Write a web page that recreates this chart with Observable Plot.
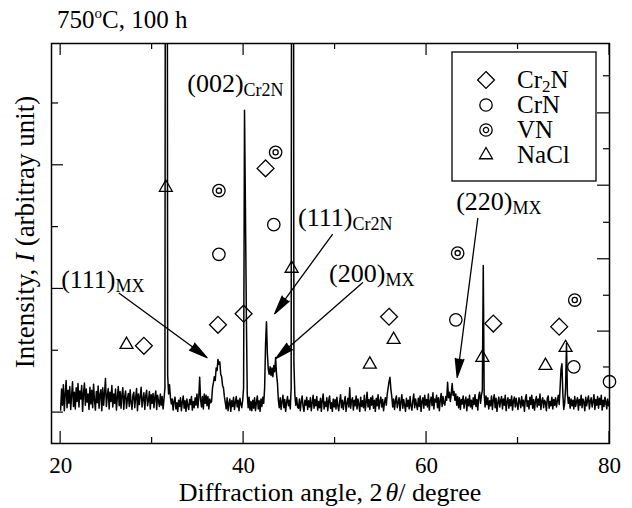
<!DOCTYPE html>
<html>
<head>
<meta charset="utf-8">
<script src="https://cdn.jsdelivr.net/npm/d3@7"></script>
<script src="https://cdn.jsdelivr.net/npm/@observablehq/plot@0.6"></script>
<style>
  html, body { margin: 0; padding: 0; background: #fff; }
  #chart svg { display: block; }
</style>
</head>
<body>
<div id="chart"></div>
<script>
// XRD scan after 750 °C, 100 h: 2θ from 20.0° to 80.0° in 0.1° steps,
// one array of intensities (arbitrary units) per 10° span.
const scanStart = 20.0;
const scanStep = 0.1;

const counts20 = [
  4, 38, 12, 45, 3, 30, 52, 8, 36, 15,
  42, 5, 28, 50, 10, 33, 6, 40, 18, 47,
  9, 35, 22, 44, 2, 31, 48, 12, 38, 17,
  30, 5, 41, 14, 36, 8, 46, 20, 4, 34,
  16, 43, 7, 29, 37, 3, 40, 12, 32, 55,
  10, 27, 39, 6, 33, 18, 44, 9, 30, 15,
  38, 4, 25, 42, 11, 34, 7, 29, 40, 5,
  26, 35, 7, 22, 31, 10, 37, 16, 5, 28,
  33, 8, 24, 39, 3, 30, 13, 26, 41, 9,
  22, 32, 5, 27, 36, 11, 20, 34, 6, 29
];
const counts30 = [
  15, 31, 8, 25, 35, 5, 28, 18, 10, 30,
  12, 26, 6, 22, 40, 1800, 1800, 60, 30, 45,
  25, 14, 22, 4, 18, 25, 6, 16, 2, 20,
  10, 24, 3, 17, 27, 7, 19, 2, 22, 11,
  5, 21, 13, 26, 4, 18, 8, 24, 12, 30,
  8, 25, 57, 20, 9, 26, 6, 30, 15, 28,
  11, 26, 6, 22, 16, 18, 40, 48, 58, 52,
  72, 68, 86, 78, 82, 62, 58, 44, 40, 26,
  16, 6, 24, 3, 15, 22, 2, 19, 10, 25,
  5, 17, 26, 9, 20, 3, 23, 14, 8, 20
];
const counts40 = [
  40, 489, 330, 160, 30, 8, 25, 4, 18, 3,
  20, 7, 24, 3, 16, 27, 6, 19, 2, 22,
  10, 25, 15, 40, 110, 147, 95, 70, 62, 74,
  60, 72, 58, 76, 66, 89, 62, 48, 20, 8,
  24, 5, 18, 28, 8, 21, 2, 17, 26, 11,
  20, 6, 40, 1800, 1800, 80, 30, 12, 24, 9,
  7, 22, 3, 18, 27, 10, 2, 20, 12, 25,
  5, 19, 9, 24, 3, 16, 28, 7, 21, 11,
  26, 4, 18, 8, 23, 2, 20, 30, 6, 17,
  10, 24, 3, 19, 27, 7, 16, 2, 22, 9
];
const counts50 = [
  21, 6, 25, 11, 3, 18, 29, 8, 20, 5,
  17, 26, 2, 15, 23, 9, 40, 7, 19, 24,
  4, 20, 11, 27, 6, 22, 13, 2, 25, 10,
  19, 8, 28, 3, 17, 33, 9, 21, 5, 24,
  12, 27, 7, 20, 2, 23, 11, 29, 6, 18,
  25, 9, 21, 3, 16, 24, 12, 30, 40, 50,
  57, 38, 26, 9, 22, 5, 19, 27, 8, 16,
  24, 3, 18, 29, 7, 21, 12, 2, 23, 10,
  20, 6, 26, 11, 4, 19, 30, 8, 22, 13,
  5, 23, 10, 27, 2, 18, 24, 7, 28, 12
];
const counts60 = [
  21, 9, 30, 4, 19, 25, 11, 32, 6, 22,
  17, 28, 8, 24, 3, 20, 31, 10, 26, 15,
  12, 26, 20, 49, 24, 33, 18, 30, 47, 28,
  34, 20, 30, 12, 26, 8, 24, 5, 21, 14,
  27, 7, 19, 25, 3, 22, 11, 28, 9, 20,
  6, 24, 13, 29, 10, 21, 4, 26, 33, 15,
  28, 36, 238, 30, 9, 27, 13, 24, 6, 19,
  11, 27, 5, 20, 29, 8, 23, 2, 17, 25,
  9, 19, 26, 6, 22, 12, 28, 3, 18, 24,
  7, 21, 11, 27, 4, 19, 25, 9, 23, 13
];
const counts70 = [
  5, 24, 18, 8, 26, 11, 20, 2, 22, 29,
  10, 19, 6, 25, 13, 28, 7, 21, 4, 18,
  26, 9, 22, 12, 30, 5, 19, 24, 8, 20,
  17, 3, 23, 27, 7, 18, 11, 25, 6, 21,
  12, 24, 9, 19, 28, 13, 40, 70, 79, 30,
  5, 15, 40, 112, 30, 15, 25, 7, 22, 11,
  20, 6, 26, 10, 18, 24, 4, 21, 12, 28,
  8, 22, 17, 3, 25, 11, 20, 27, 6, 19,
  24, 9, 18, 29, 5, 21, 12, 26, 7, 23,
  13, 28, 4, 20, 10, 25, 18, 6, 22, 11
];
const counts80 = [19];

// Reflection markers for each phase (2θ, marker height)
const cr2nAngles = [29.1, 37.2, 40.0, 42.4, 55.9, 67.3, 74.5];
const cr2nLevels = [108, 142, 160, 395, 155, 144, 139];
const crnAngles = [37.3, 43.3, 63.2, 76.1, 80.0];
const crnLevels = [256, 304, 150, 74, 50];
const vnAngles = [37.3, 43.5, 63.4, 76.2];
const vnLevels = [359, 421, 258, 182];
const naclAngles = [27.2, 31.5, 45.25, 53.8, 56.4, 66.1, 73.0, 75.2];
const naclLevels = [110, 364, 233, 78, 118, 89, 76, 105];

// Peak labels: Miller indices with phase subscript
const peakLabels = ["(002)", "(111)", "(111)", "(200)", "(220)"];
const peakSubs = ["Cr2N", "MX", "Cr2N", "MX", "MX"];
const labelAngles = [40.0, 26.0, 51.9, 55.5, 69.4];
const labelLevels = [518, 201, 301, 212, 327];

// Pointer arrows from labels to peaks
const arrowStartAngles = [26.4, 49.7, 53.0, 65.6];
const arrowStartLevels = [193, 288, 210, 314];
const arrowEndAngles = [36.0, 43.4, 43.5, 63.35];
const arrowEndLevels = [89, 160, 87, 57];

// Axis ticks
const xTicks = [20, 30, 40, 50, 60, 70, 80];
const xMajorTicks = [20, 40, 60, 80];
const xTickLabels = [20, 40, 60, 80];
const leftTicks = [0, 100, 200, 300, 400, 500];
const leftMajorTicks = [0, 200, 400];
const rightTicks = [13, 73, 131, 189, 248, 307, 367, 426, 484, 544];
const rightMajorTicks = [13, 131, 248, 367, 484];

const phaseNames = ["Cr2N", "CrN", "VN", "NaCl"];

const serif = "'Liberation Serif', 'Times New Roman', Times, serif";

// Tables built from the arrays above
const counts = [...counts20, ...counts30, ...counts40, ...counts50, ...counts60, ...counts70, ...counts80];
const scan = counts.map((c, i) => ({angle: +(scanStart + i * scanStep).toFixed(1), counts: c}));
const pts = (angles, levels) => angles.map((a, i) => ({angle: a, level: levels[i]}));
const cr2n = pts(cr2nAngles, cr2nLevels);
const crn = pts(crnAngles, crnLevels);
const vn = pts(vnAngles, vnLevels);
const nacl = pts(naclAngles, naclLevels);
const labels = peakLabels.map((t, i) => ({text: t, sub: peakSubs[i], angle: labelAngles[i], level: labelLevels[i]}));
const arrows = arrowStartAngles.map((a, i) => ({
  a1: a, l1: arrowStartLevels[i], a2: arrowEndAngles[i], l2: arrowEndLevels[i]
}));

// Marker radii (Plot dot r)
const R = {diamond: 7.6, circle: 6.2, inner: 2.6, triangle: 4.8};

// Inward ticks on all four sides of the frame
function frameTicks(index, {x, y}, values, dims) {
  const left = dims.marginLeft, right = dims.width - dims.marginRight;
  const top = dims.marginTop, bottom = dims.height - dims.marginBottom;
  const g = d3.create("svg:g").attr("stroke", "black").attr("stroke-width", 1.2).attr("fill", "none");
  for (const t of xTicks) {
    const len = xMajorTicks.includes(t) ? 12 : 6;
    const px = x(t);
    g.append("line").attr("x1", px).attr("x2", px).attr("y1", bottom).attr("y2", bottom - len);
    g.append("line").attr("x1", px).attr("x2", px).attr("y1", top).attr("y2", top + len);
  }
  for (const t of leftTicks) {
    const len = leftMajorTicks.includes(t) ? 12 : 7;
    const py = y(t);
    g.append("line").attr("x1", left).attr("x2", left + len).attr("y1", py).attr("y2", py);
  }
  for (const t of rightTicks) {
    const len = rightMajorTicks.includes(t) ? 12 : 6;
    const py = y(t);
    g.append("line").attr("x1", right).attr("x2", right - len).attr("y1", py).attr("y2", py);
  }
  return g.node();
}

// Text with digits set as subscripts (chemical formulae)
function formula(sel, name, subSize) {
  let lowered = false;
  for (const part of name.split(/(\d+)/).filter(Boolean)) {
    if (/^\d+$/.test(part)) {
      sel.append("tspan").attr("font-size", subSize).attr("dy", 4).text(part);
      lowered = true;
    } else {
      sel.append("tspan").attr("dy", lowered ? -4 : 0).text(part);
      lowered = false;
    }
  }
}

// Legend box in the upper-right corner
function legend(index, scales, values, dims) {
  const right = dims.width - dims.marginRight, top = dims.marginTop;
  const bw = 144, bh = 129;
  const bx = right - 13 - bw, by = top + 9;
  const g = d3.create("svg:g");
  g.append("rect").attr("x", bx).attr("y", by).attr("width", bw).attr("height", bh)
    .attr("fill", "white").attr("stroke", "black").attr("stroke-width", 1.3);
  const shapes = [
    [{type: d3.symbolDiamond2, r: R.diamond}],
    [{type: d3.symbolCircle, r: R.circle}],
    [{type: d3.symbolCircle, r: R.circle}, {type: d3.symbolCircle, r: R.inner}],
    [{type: d3.symbolTriangle, r: R.triangle}]
  ];
  phaseNames.forEach((name, i) => {
    const cx = bx + 34, cy = by + 28 + i * 25;
    for (const s of shapes[i]) {
      g.append("path")
        .attr("transform", `translate(${cx},${cy})`)
        .attr("d", d3.symbol(s.type, Math.PI * s.r * s.r)())
        .attr("fill", "none").attr("stroke", "black").attr("stroke-width", 1.3);
    }
    const t = g.append("text").attr("x", bx + 65).attr("y", cy + 8)
      .attr("text-anchor", "start")
      .attr("font-family", serif).attr("font-size", 25).attr("fill", "black");
    formula(t, name, 17);
  });
  return g.node();
}

// Title and axis titles
function titles(index, scales, values, dims) {
  const g = d3.create("svg:g").attr("font-family", serif).attr("fill", "black");
  const title = g.append("text").attr("x", 57).attr("y", 28).attr("font-size", 25)
    .attr("text-anchor", "start");
  title.append("tspan").text("750");
  title.append("tspan").attr("font-size", 15).attr("dy", -10).text("o");
  title.append("tspan").attr("dy", 10).text("C, 100 h");

  const xl = g.append("text").attr("x", 330).attr("y", dims.height - 7)
    .attr("font-size", 26).attr("text-anchor", "middle");
  xl.append("tspan").text("Diffraction angle, 2");
  xl.append("tspan").attr("font-style", "italic").attr("dx", 3).text("\u03b8");
  xl.append("tspan").text("/ degree");

  const yl = g.append("text").attr("transform", "translate(34,232) rotate(-90)")
    .attr("font-size", 27).attr("text-anchor", "middle");
  yl.append("tspan").text("Intensity, ");
  yl.append("tspan").attr("font-style", "italic").text("I");
  yl.append("tspan").text(" (arbitray unit)");
  return g.node();
}

const dotStyle = {x: "angle", y: "level", fill: "none", stroke: "black", strokeWidth: 1.3};

const chart = Plot.plot({
  width: 632,
  height: 508,
  marginLeft: 51,
  marginRight: 23,
  marginTop: 43,
  marginBottom: 65,
  x: {domain: [19.0, 80.0], axis: null},
  y: {domain: [-50, 597], axis: null},
  style: {fontFamily: serif, color: "black", background: "white"},
  marks: [
    Plot.line(scan, {x: "angle", y: "counts", stroke: "black", strokeWidth: 1.5, clip: true}),
    Plot.dot(cr2n, {...dotStyle, symbol: "diamond2", r: R.diamond}),
    Plot.dot(crn, {...dotStyle, symbol: "circle", r: R.circle}),
    Plot.dot(vn, {...dotStyle, symbol: "circle", r: R.circle}),
    Plot.dot(vn, {...dotStyle, symbol: "circle", r: R.inner}),
    Plot.dot(nacl, {...dotStyle, symbol: "triangle", r: R.triangle}),
    Plot.arrow(arrows, {
      x1: "a1", y1: "l1", x2: "a2", y2: "l2",
      stroke: "black", fill: "black", strokeWidth: 1.3, headLength: 22, headAngle: 26
    }),
    Plot.text(labels, {x: "angle", y: "level", text: "text", textAnchor: "end", lineAnchor: "bottom",
      fontSize: 26, fill: "black"}),
    Plot.text(labels, {x: "angle", y: "level", text: "sub", textAnchor: "start", lineAnchor: "bottom",
      dy: 4, fontSize: 18, fill: "black"}),
    Plot.frame({stroke: "black", strokeWidth: 1.5}),
    frameTicks,
    Plot.axisX({ticks: xTickLabels, tickSize: 0, tickPadding: 13, fontSize: 23, label: null}),
    legend,
    titles
  ]
});

document.getElementById("chart").append(chart);
</script>
</body>
</html>
